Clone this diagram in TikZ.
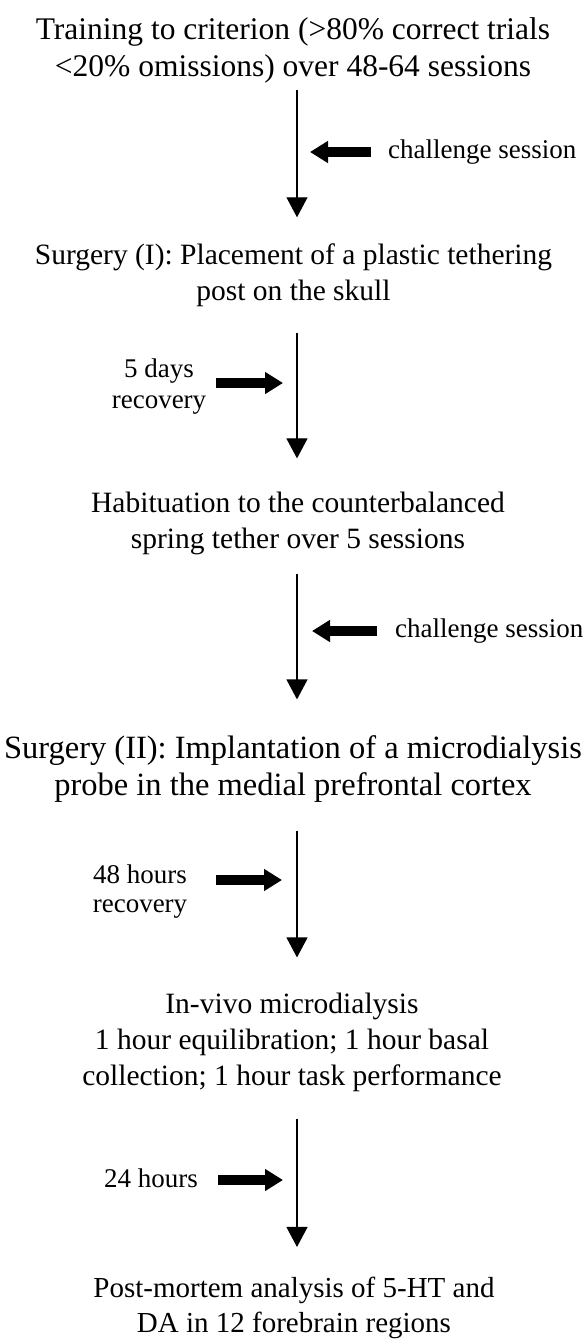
\documentclass[tikz,border=0pt]{standalone}
\usepackage{fontspec}
\setmainfont{Liberation Serif}
\usetikzlibrary{positioning,calc,arrows.meta}

\tikzset{
  stage/.style={align=center, inner sep=0pt},
  note/.style={align=center, inner sep=0pt, font=\fontsize{27}{29}\selectfont},
  flow/.style={-{Triangle[length=20pt,width=21pt]}, line width=1.2pt},
  fat/.style={-{Triangle[length=18pt,width=21pt]}, line width=10pt}
}

\begin{document}
\begin{tikzpicture}[x=1pt,y=-1pt]
    \useasboundingbox (0,0) rectangle (586,1344);
    \coordinate (axis) at (297,0);

    % Stages
    \node[stage, font=\fontsize{31.5}{37}\selectfont] (train) at (293,50.5)
        {Training to criterion (>80\% correct trials\\<20\% omissions) over 48-64 sessions};
    \node[stage, font=\fontsize{29.5}{36}\selectfont] (surg1) at (293.5,275)
        {Surgery (I): Placement of a plastic tethering\\post on the skull};
    \node[stage, font=\fontsize{29.5}{36}\selectfont] (habit) at (298,523)
        {Habituation to the counterbalanced\\spring tether over 5 sessions};
    \node[stage, font=\fontsize{32.5}{37}\selectfont] (surg2) at (293,769)
        {Surgery (II): Implantation of a microdialysis\\probe in the medial prefrontal cortex};
    \node[stage, font=\fontsize{29.5}{36}\selectfont] (dialysis) at (292,1042)
        {In-vivo microdialysis\\1 hour equilibration; 1 hour basal\\collection; 1 hour task performance};
    \node[stage, font=\fontsize{29}{35}\selectfont] (post) at (294,1308)
        {Post-mortem analysis of 5-HT and\\DA in 12 forebrain regions};

    % Main arrows
    \draw[flow, shorten <=7pt, shorten >=26pt] (train.south -| axis) -- (surg1.north -| axis);
    \draw[flow, shorten <=26pt, shorten >=33pt] (surg1.south -| axis) -- (habit.north -| axis);
    \draw[flow, shorten <=19pt, shorten >=36pt] (habit.south -| axis) -- (surg2.north -| axis);
    \draw[flow, shorten <=28pt, shorten >=35pt] (surg2.south -| axis) -- (dialysis.north -| axis);
    \draw[flow, shorten <=27pt, shorten >=30pt] (dialysis.south -| axis) -- (post.north -| axis);

    % Side notes
    \coordinate (s1) at (297,152);
    \coordinate (s2) at (297,383);
    \coordinate (s3) at (297,631);
    \coordinate (s4) at (297,880);
    \coordinate (s5) at (297,1180);

    \node[note, anchor=west] (chal1) at (388,152) {challenge session};
    \node[note, font=\fontsize{27}{31}\selectfont] (rec1) at (159,387) {5 days\\recovery};
    \node[note, anchor=west] (chal2) at (395,631) {challenge session};
    \node[note] (rec2) at (140,892) {48 hours\\recovery};
    \node[note] (hrs) at (151,1178) {24 hours};

    \draw[fat, shorten <=17pt, shorten >=13pt] (chal1.west) -- (s1);
    \draw[fat, shorten <=10pt, shorten >=14pt] (rec1.east |- s2) -- (s2);
    \draw[fat, shorten <=18pt, shorten >=15pt] (chal2.west) -- (s3);
    \draw[fat, shorten <=29pt, shorten >=15pt] (rec2.east |- s4) -- (s4);
    \draw[fat, shorten <=20pt, shorten >=14pt] (hrs.east |- s5) -- (s5);
\end{tikzpicture}
\end{document}
